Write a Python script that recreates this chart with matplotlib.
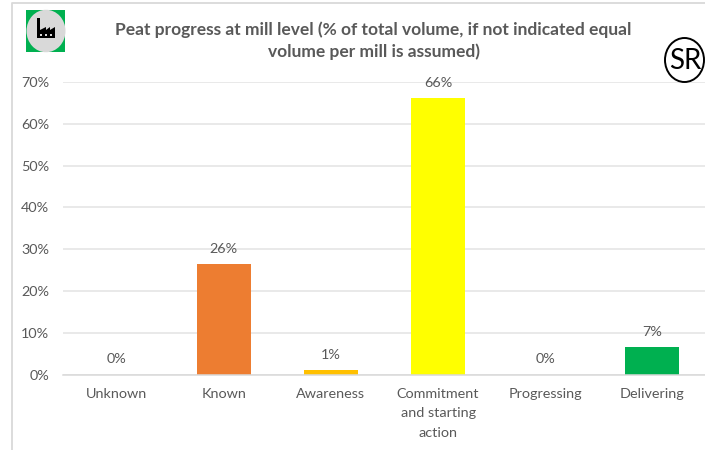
import matplotlib
matplotlib.use("Agg")
import matplotlib.pyplot as plt
from matplotlib.patches import Rectangle, Ellipse, Polygon
from matplotlib.lines import Line2D

categories = ["Unknown", "Known", "Awareness", "Commitment\nand starting\naction", "Progressing", "Delivering"]
values = [0, 26.4, 1.0, 66.2, 0, 6.6]
labels = ["0%", "26%", "1%", "66%", "0%", "7%"]
colors = ["#4472C4", "#ED7D31", "#FFC000", "#FFFF00", "#5B9BD5", "#00B050"]
yticks = [0, 10, 20, 30, 40, 50, 60, 70]
title = "Peat progress at mill level (% of total volume, if not indicated equal\nvolume per mill is assumed)"

plt.rcParams['font.family'] = ['Lato', 'DejaVu Sans']
W, H = 705, 450
fig = plt.figure(figsize=(W/100, H/100), dpi=100, facecolor="white")
ax = fig.add_axes([63/W, 1-374.5/H, (706-63)/W, (374.5-82)/H])
GREY = "#595959"
x = range(len(categories))
ax.bar(x, values, width=0.505, color=colors, zorder=3)
ax.set_xlim(-0.5, 5.5)
ax.set_ylim(0, 70)
ax.set_yticks(yticks)
ax.set_yticklabels([f"{v}%" for v in yticks], color=GREY, fontsize=10.4)
ax.set_xticks(list(x))
ax.set_xticklabels(categories, color=GREY, fontsize=10.4, linespacing=1.78)
ax.tick_params(length=0, axis='y', pad=10)
ax.tick_params(length=0, axis='x', pad=9.5)
ax.grid(axis='y', color="#E3E3E3", lw=1.1, zorder=0)
ax.set_axisbelow(True)
for s in ["top", "right", "left"]:
    ax.spines[s].set_visible(False)
ax.spines["bottom"].set_color("#D9D9D9")
ax.spines["bottom"].set_linewidth(1.1)
ax.spines["bottom"].set_zorder(4)
ax.patch.set_alpha(0)
for i, (v, l) in enumerate(zip(values, labels)):
    ax.annotate(l, (i, v), xytext=(0, 6.5), textcoords="offset points",
                ha="center", va="bottom", color=GREY, fontsize=10.4, zorder=5)

# Overlay in pixel coordinates (y down)
ov = fig.add_axes([0, 0, 1, 1], zorder=10)
ov.set_xlim(0, W)
ov.set_ylim(H, 0)
ov.axis("off")
ov.patch.set_alpha(0)
ov.add_line(Line2D([11.5, 11.5, 705], [450, 2.5, 2.5], color="#D9D9D9", lw=1.3))
ov.text(373.5, 40.5, title, ha="center", va="center", color=GREY, fontsize=12.55,
        fontweight="bold", linespacing=1.42)

# Factory badge
ov.add_patch(Rectangle((26, 10), 39, 42, color="#00B050", lw=0))
ov.add_patch(Ellipse((46, 31), 39, 42.5, color="#D9D9D9", lw=0))
ov.add_patch(Polygon([(37, 38), (37, 18), (40, 18), (40, 30), (46, 27), (46, 30),
                      (50, 27), (50, 30), (55, 27), (55, 38)], color="black", lw=0))
for px in (39.5, 44.5, 49.5):
    ov.add_patch(Rectangle((px, 33.5), 2.2, 2.2, color="#D9D9D9", lw=0))

# SR badge
ov.add_patch(Ellipse((684.5, 60), 39, 44, fc="white", ec="black", lw=1.4))
ov.text(685.5, 61, "SR", ha="center", va="center", color="black", fontsize=20)

fig.savefig("out.png", dpi=100)
